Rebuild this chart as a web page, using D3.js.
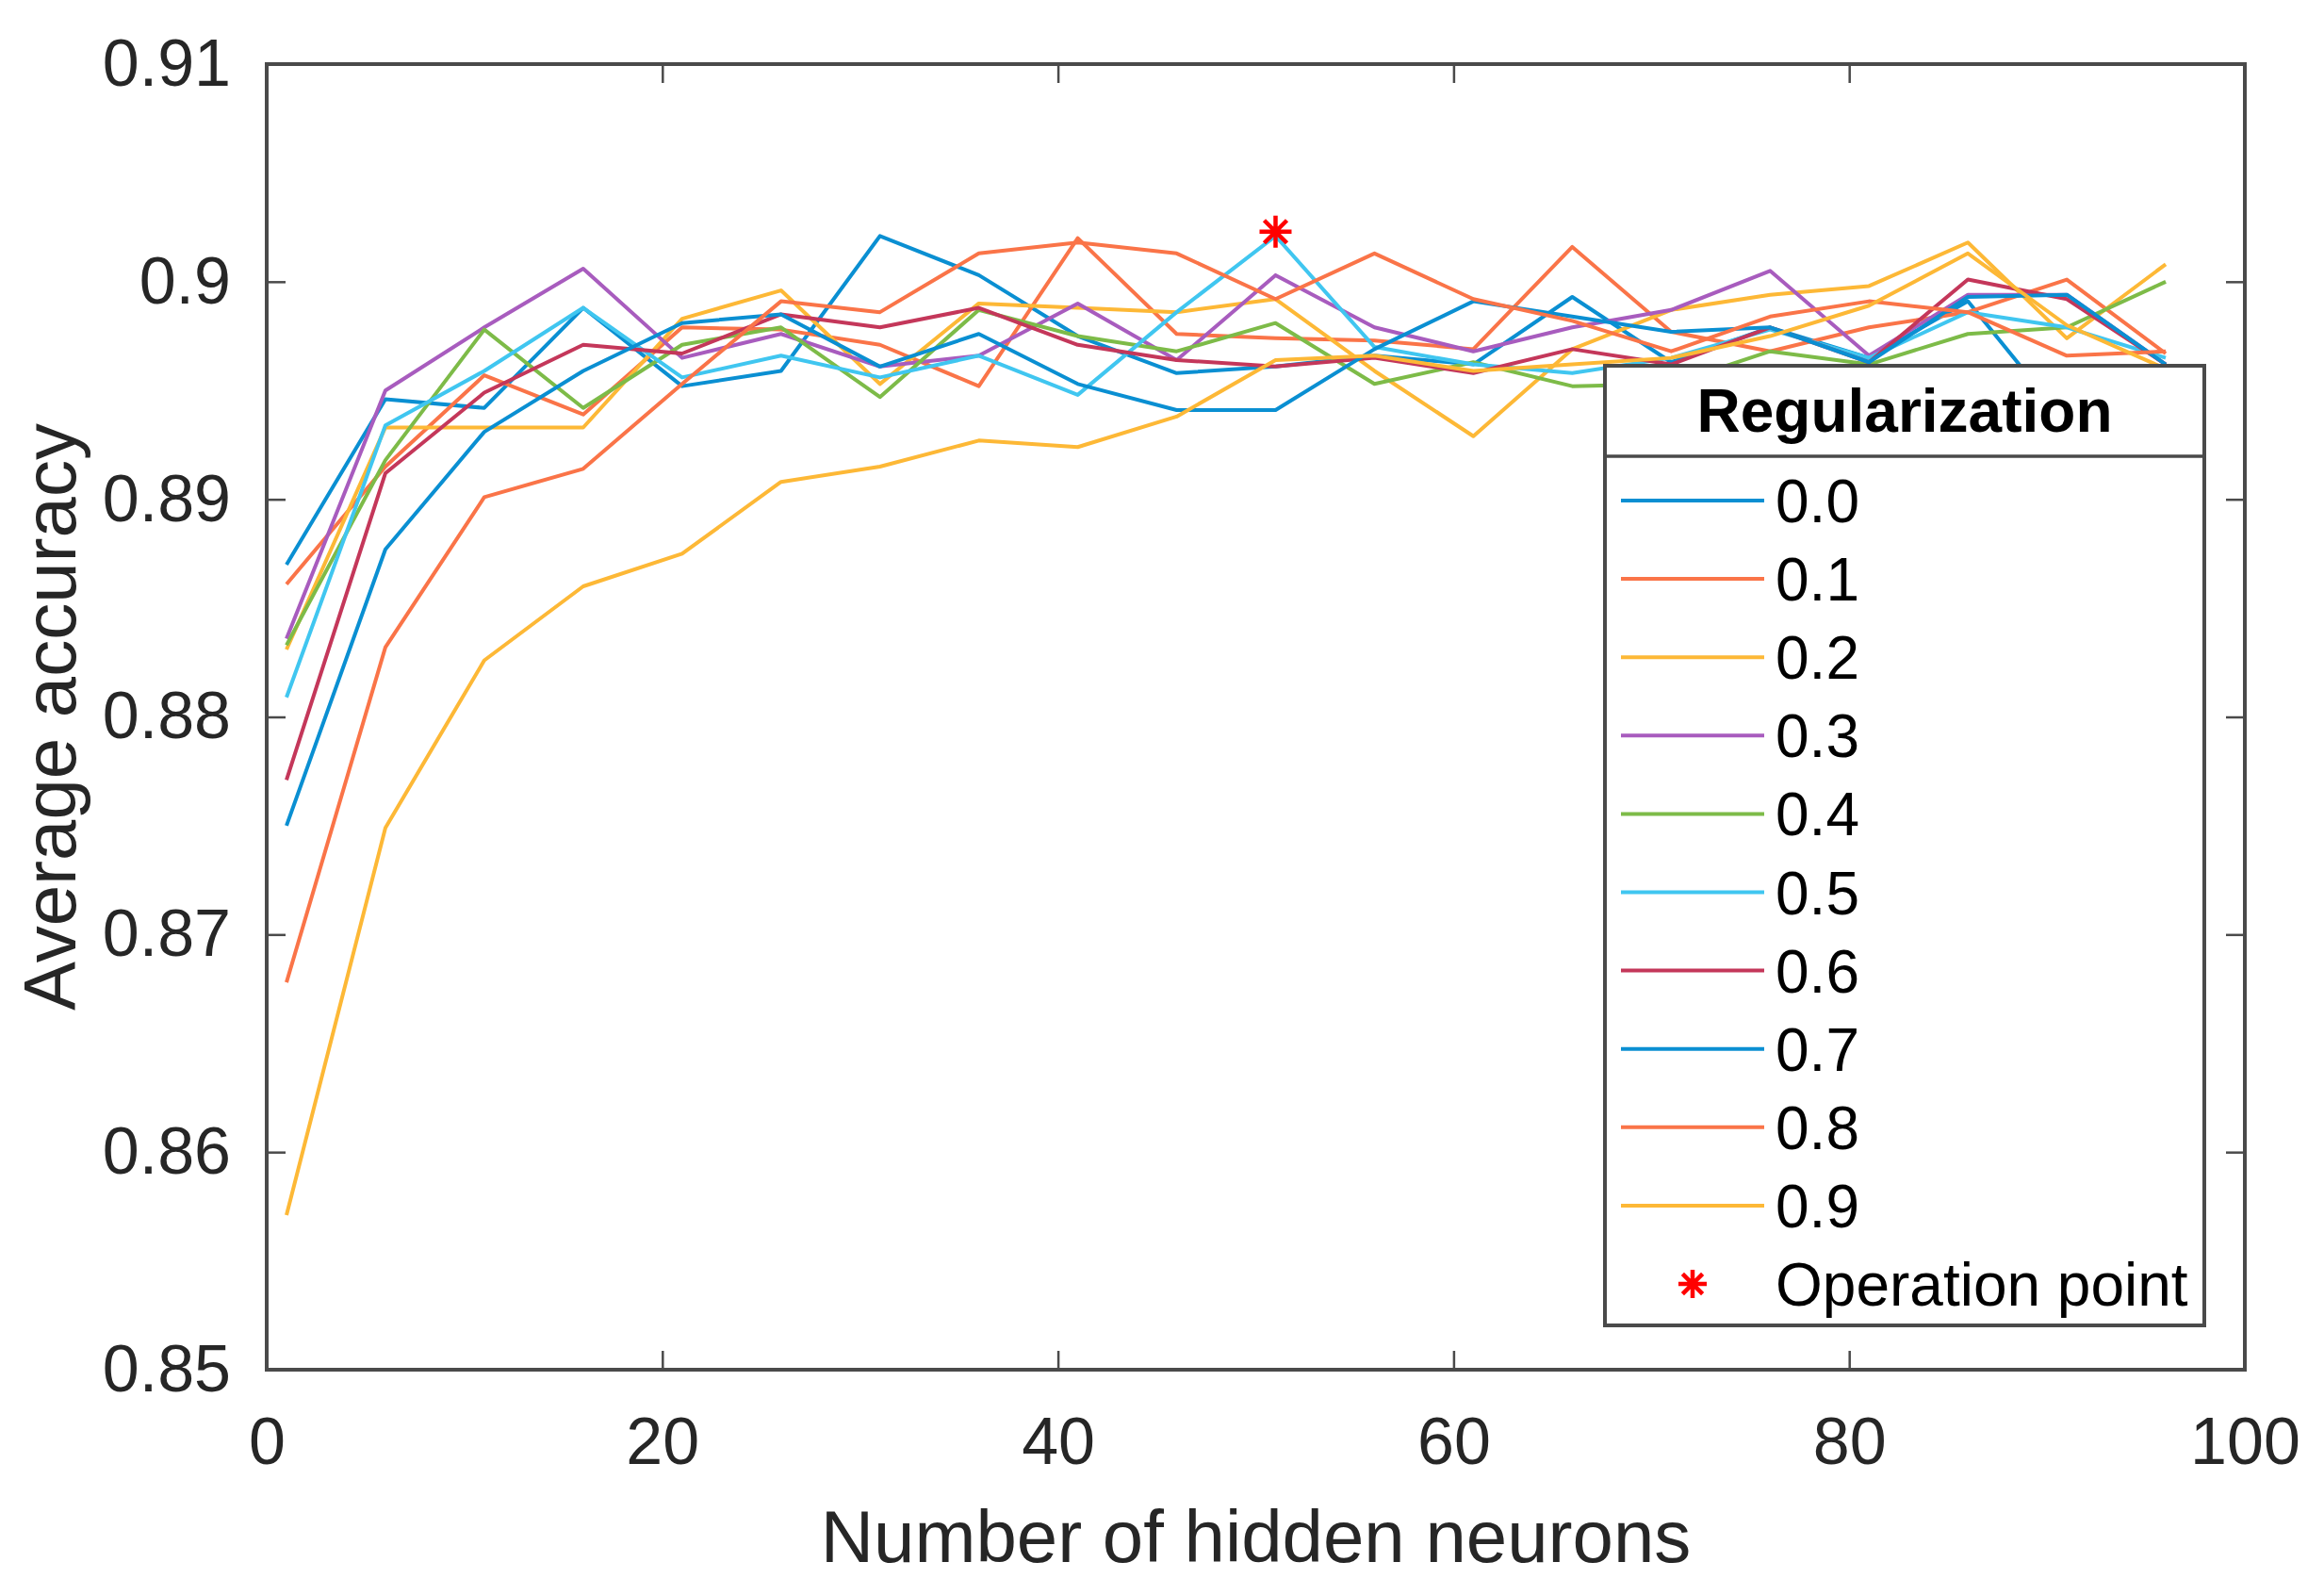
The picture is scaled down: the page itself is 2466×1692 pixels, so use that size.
<!DOCTYPE html>
<html><head><meta charset="utf-8">
<script src="https://cdn.jsdelivr.net/npm/d3@7"></script>
<style>body{margin:0;background:#fff}svg{display:block}text{font-family:"Liberation Sans",Arial,Helvetica,sans-serif}</style>
</head><body>
<svg id="chart" width="2466" height="1692"></svg>
<script>
// ---------- data ----------
const neurons = [1,6,11,16,21,26,31,36,41,46,51,56,61,66,71,76,81,86,91,96];
const reg00 = [0.8870,0.8946,0.8942,0.8988,0.8952,0.8959,0.9021,0.9003,0.8975,0.8958,0.8961,0.8966,0.8962,0.8993,0.8963,0.8979,0.8965,0.8991,0.8935,0.8958];
const reg01 = [0.8861,0.8915,0.8957,0.8939,0.8979,0.8978,0.8971,0.8952,0.9020,0.8976,0.8974,0.8973,0.8969,0.9016,0.8977,0.8968,0.8979,0.8986,0.9001,0.8967];
const reg02 = [0.8831,0.8933,0.8933,0.8933,0.8983,0.8996,0.8953,0.8990,0.8988,0.8986,0.8992,0.8959,0.8929,0.8969,0.8987,0.8994,0.8998,0.9018,0.8974,0.9008];
const reg03 = [0.8836,0.8950,0.8979,0.9006,0.8965,0.8976,0.8961,0.8966,0.8990,0.8964,0.9003,0.8979,0.8968,0.8979,0.8987,0.9005,0.8966,0.8994,0.8994,0.8962];
const reg04 = [0.8833,0.8918,0.8978,0.8942,0.8971,0.8979,0.8947,0.8987,0.8975,0.8968,0.8981,0.8953,0.8963,0.8952,0.8953,0.8968,0.8962,0.8976,0.8979,0.9000];
const reg05 = [0.8809,0.8934,0.8959,0.8988,0.8956,0.8966,0.8956,0.8966,0.8948,0.8986,0.9021,0.8970,0.8962,0.8958,0.8965,0.8978,0.8965,0.8986,0.8979,0.8965];
const reg06 = [0.8771,0.8912,0.8949,0.8971,0.8967,0.8985,0.8979,0.8988,0.8971,0.8964,0.8961,0.8965,0.8958,0.8969,0.8962,0.8979,0.8963,0.9001,0.8992,0.8962];
const reg07 = [0.8750,0.8877,0.8931,0.8959,0.8981,0.8985,0.8961,0.8976,0.8953,0.8941,0.8941,0.8969,0.8991,0.8984,0.8977,0.8979,0.8963,0.8993,0.8994,0.8962];
const reg08 = [0.8678,0.8832,0.8901,0.8914,0.8953,0.8991,0.8986,0.9013,0.9018,0.9013,0.8992,0.9013,0.8992,0.8982,0.8968,0.8984,0.8991,0.8986,0.8966,0.8968];
const reg09 = [0.8571,0.8749,0.8826,0.8860,0.8875,0.8908,0.8915,0.8927,0.8924,0.8938,0.8964,0.8966,0.8959,0.8962,0.8965,0.8975,0.8989,0.9013,0.8980,0.8960];
const seriesNames = ["0.0","0.1","0.2","0.3","0.4","0.5","0.6","0.7","0.8","0.9"];
const seriesValues = [reg00,reg01,reg02,reg03,reg04,reg05,reg06,reg07,reg08,reg09];
const opPointX = [51];
const opPointY = [0.9023];
const opPointName = "Operation point";
const legendTitle = "Regularization";
const xTicks = [0,20,40,60,80,100];
const yTicks = [0.85,0.86,0.87,0.88,0.89,0.90,0.91];
const yTickLabels = ["0.85","0.86","0.87","0.88","0.89","0.9","0.91"];
const xTitle = "Number of hidden neurons";
const yTitle = "Average accuracy";

// ---------- styles ----------
const colors = ["#0A8FD2","#FA7448","#FDB836","#A85CBE","#7DBB48","#40C6F0","#C4375A","#0A8FD2","#FA7448","#FDB836"];
const axisColor = "#4a4a4a";

const svg = d3.select("#chart");
const L = 283, R = 2382, T = 68, B = 1453;
const x = d3.scaleLinear().domain([0,100]).range([L,R]);
const y = d3.scaleLinear().domain([0.85,0.91]).range([B,T]);

// series lines
const line = d3.line().x((d,i)=>x(neurons[i])).y(d=>y(d));
svg.append("g").selectAll("path").data(seriesValues).join("path")
  .attr("d", d=>line(d)).attr("fill","none")
  .attr("stroke",(d,i)=>colors[i]).attr("stroke-width",4)
  .attr("stroke-linejoin","round");

// operation point star
function starPath(cx,cy,r){
  const d = r*Math.SQRT1_2;
  return `M${cx-r},${cy}L${cx+r},${cy}M${cx},${cy-r}L${cx},${cy+r}`+
         `M${cx-d},${cy-d}L${cx+d},${cy+d}M${cx-d},${cy+d}L${cx+d},${cy-d}`;
}
svg.append("g").selectAll("path").data(opPointX).join("path")
  .attr("d",(d,i)=>starPath(x(d),y(opPointY[i]),17))
  .attr("stroke","#FF0000").attr("stroke-width",4.5).attr("fill","none");

// axes
const fs = 70;
const gx = svg.append("g").attr("transform",`translate(0,${B})`)
  .call(d3.axisBottom(x).tickValues(xTicks).tickSize(-20).tickPadding(50).tickFormat(d3.format("d")));
const gy = svg.append("g").attr("transform",`translate(${L},0)`)
  .call(d3.axisLeft(y).tickValues(yTicks).tickSize(-20).tickPadding(38).tickFormat((d,i)=>yTickLabels[i]));
const gt = svg.append("g").attr("transform",`translate(0,${T})`)
  .call(d3.axisTop(x).tickValues(xTicks).tickSize(-20).tickFormat(""));
const gr = svg.append("g").attr("transform",`translate(${R},0)`)
  .call(d3.axisRight(y).tickValues(yTicks).tickSize(-20).tickFormat(""));
[gx,gy,gt,gr].forEach(g=>{
  g.select(".domain").remove();
  g.selectAll("line").attr("stroke",axisColor).attr("stroke-width",2.5);
  g.selectAll("text").attr("font-size",fs).attr("fill","#262626")
   .attr("font-family","'Liberation Sans',Arial,Helvetica,sans-serif");
});
svg.append("rect").attr("x",L).attr("y",T).attr("width",R-L).attr("height",B-T)
  .attr("fill","none").attr("stroke",axisColor).attr("stroke-width",4);

// axis titles
svg.append("text").attr("x",(L+R)/2).attr("y",1657).attr("text-anchor","middle")
  .attr("font-size",78).attr("fill","#262626").text(xTitle);
svg.append("text").attr("transform",`translate(80,${(T+B)/2}) rotate(-90)`)
  .attr("text-anchor","middle").attr("font-size",78).attr("fill","#262626").text(yTitle);

// legend
const lg = svg.append("g");
const lx0 = 1703, lx1 = 2339, ly0 = 388, ly1 = 1406, ldiv = 484;
lg.append("rect").attr("x",lx0).attr("y",ly0).attr("width",lx1-lx0).attr("height",ly1-ly0)
  .attr("fill","#fff").attr("stroke",axisColor).attr("stroke-width",4);
lg.append("line").attr("x1",lx0).attr("x2",lx1).attr("y1",ldiv).attr("y2",ldiv)
  .attr("stroke",axisColor).attr("stroke-width",3.5);
lg.append("text").attr("x",(lx0+lx1)/2).attr("y",458).attr("text-anchor","middle")
  .attr("font-size",64).attr("font-weight","bold").attr("fill","#000").text(legendTitle);
const rowY = i => 531 + i*83.1;
const rows = lg.append("g").selectAll("g").data(seriesNames).join("g");
rows.append("line").attr("x1",1720).attr("x2",1872).attr("y1",(d,i)=>rowY(i)).attr("y2",(d,i)=>rowY(i))
  .attr("stroke",(d,i)=>colors[i]).attr("stroke-width",4);
rows.append("text").attr("x",1884).attr("y",(d,i)=>rowY(i)+23)
  .attr("font-size",64).attr("fill","#000").text(d=>d);
lg.append("path").attr("d",starPath(1796,rowY(10),15)).attr("stroke","#FF0000").attr("stroke-width",4.5).attr("fill","none");
lg.append("text").attr("x",1884).attr("y",rowY(10)+23).attr("font-size",64).attr("fill","#000").text(opPointName);
</script>
</body></html>
